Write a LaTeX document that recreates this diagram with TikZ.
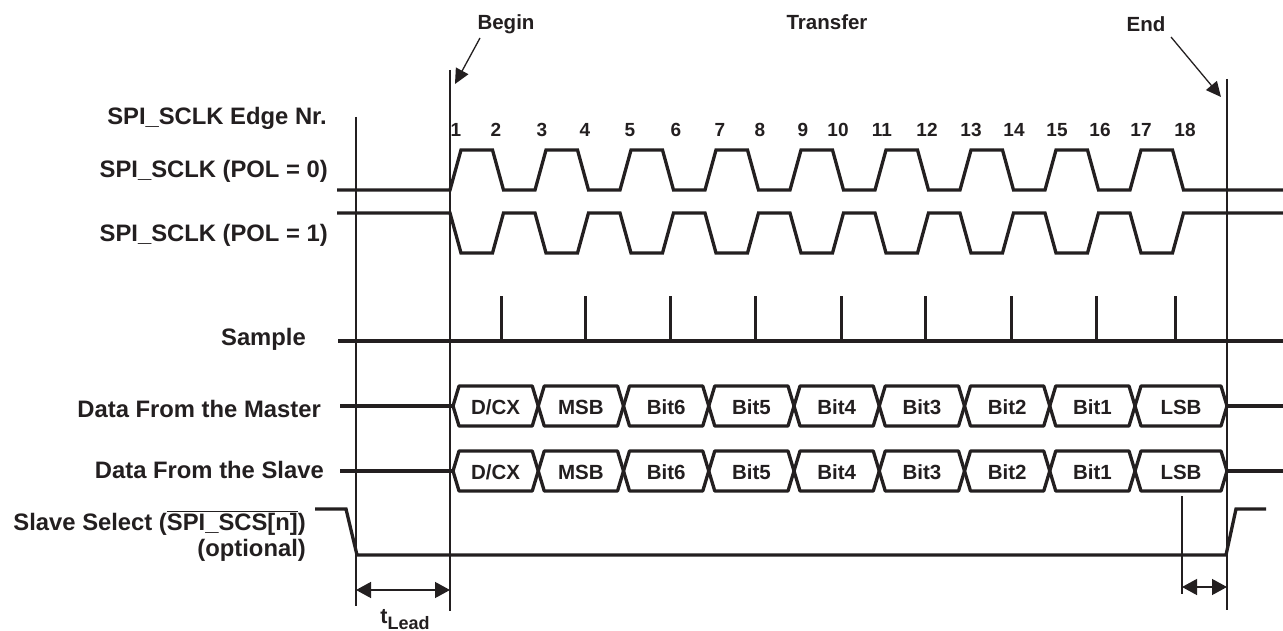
\documentclass[tikz,border=0pt]{standalone}
\usepackage{fontspec}
\setmainfont{Liberation Sans}
\usetikzlibrary{arrows.meta}
\definecolor{ink}{RGB}{35,31,32}
\newcommand{\ovl}[1]{$\overline{\mbox{#1}}$}
\begin{document}
\begin{tikzpicture}[x=1pt,y=-1pt,
  wave/.style={draw=ink, line width=3.3pt},
  buswave/.style={draw=ink, line width=3.3pt, line join=round},
  fine/.style={draw=ink, line width=1.3pt},
  tickline/.style={draw=ink, line width=3pt},
  lab/.style={font=\bfseries\fontsize{23.8}{28}\selectfont, text=ink, inner sep=0pt, anchor=base east},
  num/.style={font=\bfseries\fontsize{19}{22}\selectfont, text=ink, inner sep=0pt, anchor=base},
  buslab/.style={font=\bfseries\fontsize{20.5}{24}\selectfont, text=ink, inner sep=0pt, anchor=base},
  headlab/.style={font=\bfseries\fontsize{20.5}{24}\selectfont, text=ink, inner sep=0pt, anchor=base},
  pointer/.style={fine, -{Triangle[length=15pt,width=14pt]}},
  dimarrow/.style={fine, {Triangle[length=15pt,width=16pt]}-{Triangle[length=15pt,width=16pt]}}
]
\useasboundingbox[fill=white] (0,0) rectangle (1283,631);

% headings
\node[headlab] (hBegin) at (506,30) {Begin};
\node[headlab] (hTransfer) at (827,30) {Transfer};
\node[headlab] (hEnd) at (1146,32) {End};

% vertical reference lines
\coordinate (lt) at (356,117); \coordinate (lb) at (356,606);
\coordinate (bt) at (450,70);  \coordinate (bb) at (450,611);
\coordinate (et) at (1227,79); \coordinate (eb) at (1227,610);
\draw[fine] (lt) -- (lb);
\draw[fine] (bt) -- (bb);
\draw[fine] (et) -- (eb);

% pointers
\coordinate (bTail) at (480,38); \coordinate (bTip) at (455,84);
\coordinate (eTail) at (1171,37); \coordinate (eTip) at (1221,97);
\draw[pointer] (bTail) -- (bTip);
\draw[pointer] (eTail) -- (eTip);

% left labels
\node[lab] (lEdge) at (327,125) {SPI\_SCLK Edge Nr.};
\node[lab] (lPol0) at (328,178) {SPI\_SCLK (POL = 0)};
\node[lab] (lPol1) at (328,242) {SPI\_SCLK (POL = 1)};
\node[lab] (lSample) at (306,345) {Sample};
\node[lab] (lMaster) at (321,417) {Data From the Master};
\node[lab] (lSlave) at (324,478) {Data From the Slave};
\node[lab] (lSS) at (306,530) {Slave Select (\ovl{SPI\_SCS[n]})};
\node[lab] (lOpt) at (306,556) {(optional)};

% edge numbers
\foreach \x [count=\n] in {456,496,542,585,630,676,720,760,803,838,882,927,971,1014,1057,1100,1141,1185}
  \node[num] (e\n) at (\x,137) {\n};

% SPI_SCLK POL=0
\draw[wave] (337,190) -- (450,190)
  \foreach \k in {0,...,8}{ -- ({461+85*\k},150) -- ({492.5+85*\k},150) -- ({503.5+85*\k},190) -- ({535+85*\k},190) }
  -- (1283,190);
% SPI_SCLK POL=1
\draw[wave] (337,213) -- (450,213)
  \foreach \k in {0,...,8}{ -- ({461+85*\k},253) -- ({492.5+85*\k},253) -- ({503.5+85*\k},213) -- ({535+85*\k},213) }
  -- (1283,213);

% Sample
\draw[wave] (338,341) -- (1283,341);
\foreach \x in {501,585,670,755,841,925,1011,1096,1175}
  \draw[tickline] (\x,342) -- (\x,296);

% data buses
\draw[wave] (340,406) -- (453,406);
\draw[wave] (1227,406) -- (1283,406);
\draw[wave] (340,471) -- (453,471);
\draw[wave] (1227,471) -- (1283,471);
\foreach \lab [count=\i from 0] in {{D/CX},MSB,Bit6,Bit5,Bit4,Bit3,Bit2,Bit1,LSB}{
  \pgfmathsetmacro\xa{453+85.25*\i}
  \pgfmathsetmacro\xb{\i<8 ? 453+85.25*(\i+1) : 1227}
  \pgfmathsetmacro\xm{(\xa+\xb)/2}
  \draw[buswave] (\xa,406) -- (\xa+6,386) -- (\xb-6,386) -- (\xb,406) -- (\xb-6,426) -- (\xa+6,426) -- cycle;
  \draw[buswave] (\xa,471) -- (\xa+6,451) -- (\xb-6,451) -- (\xb,471) -- (\xb-6,491) -- (\xa+6,491) -- cycle;
  \node[buslab] (m\i) at (\xm,414) {\lab};
  \node[buslab] (s\i) at (\xm,479) {\lab};
}

% slave select
\draw[wave] (315,509) -- (346,509) -- (357,555) -- (1226,555) -- (1236,509) -- (1266,509);

% timing dimensions
\coordinate (lagT) at (1182,496); \coordinate (lagB) at (1182,594);
\draw[fine] (lagT) -- (lagB);
\coordinate (leadA) at (356,590); \coordinate (leadB) at (450,590);
\draw[dimarrow] (leadA) -- (leadB);
\coordinate (lagA) at (1182,587); \coordinate (lagE) at (1227,587);
\draw[dimarrow] (lagA) -- (lagE);
\node[font=\bfseries\fontsize{21.5}{24}\selectfont, text=ink, inner sep=0pt, anchor=base] (tlead) at (405,623)
  {t\raisebox{-6pt}{\fontsize{18}{20}\selectfont Lead}};
\end{tikzpicture}
\end{document}
